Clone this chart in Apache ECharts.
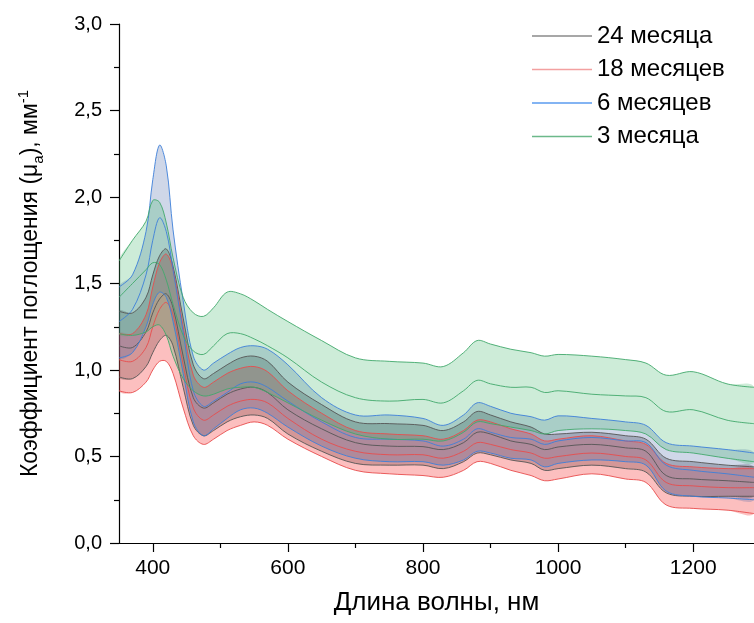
<!DOCTYPE html>
<html>
<head>
<meta charset="utf-8">
<script src="https://cdn.jsdelivr.net/npm/echarts@6/dist/echarts.min.js"></script>
<style>
  html, body { margin: 0; padding: 0; background: #ffffff; }
  #chart { width: 754px; height: 623px; }
</style>
</head>
<body>
<div id="chart"></div>
<script>
// Wavelength grid, nm
const wavelength = [350,370,390,400,410,420,430,445,460,475,490,510,530,550,570,600,650,700,750,800,830,860,880,900,930,960,980,1000,1050,1100,1130,1160,1200,1250,1290];

// 24 месяца: upper bound, mean, lower bound (мм^-1)
const m24Upper = [1.34,1.33,1.42,1.55,1.66,1.70,1.60,1.30,1.03,0.95,0.98,1.03,1.07,1.08,1.05,0.93,0.80,0.70,0.69,0.68,0.65,0.70,0.76,0.74,0.70,0.67,0.63,0.63,0.64,0.62,0.60,0.49,0.47,0.45,0.44];
const m24Mean  = [1.14,1.13,1.22,1.33,1.41,1.44,1.36,1.08,0.84,0.78,0.81,0.86,0.89,0.90,0.87,0.77,0.66,0.58,0.56,0.557,0.54,0.58,0.64,0.63,0.59,0.57,0.54,0.555,0.57,0.55,0.53,0.39,0.37,0.36,0.35];
const m24Lower = [0.96,0.95,1.02,1.10,1.17,1.20,1.14,0.90,0.68,0.62,0.65,0.70,0.73,0.74,0.72,0.63,0.53,0.46,0.45,0.45,0.43,0.47,0.52,0.51,0.48,0.46,0.42,0.43,0.45,0.43,0.41,0.29,0.27,0.27,0.27];

// 18 месяцев
const m18Upper = [1.21,1.21,1.32,1.48,1.62,1.67,1.58,1.25,0.97,0.90,0.93,0.98,1.01,1.02,0.99,0.88,0.75,0.65,0.63,0.62,0.60,0.65,0.71,0.70,0.66,0.63,0.59,0.60,0.62,0.59,0.57,0.46,0.44,0.43,0.43];
const m18Mean  = [1.06,1.05,1.13,1.25,1.35,1.39,1.32,1.03,0.78,0.71,0.74,0.79,0.82,0.83,0.81,0.72,0.60,0.53,0.51,0.51,0.49,0.53,0.58,0.57,0.54,0.52,0.49,0.50,0.52,0.50,0.48,0.35,0.33,0.32,0.32];
const m18Lower = [0.88,0.87,0.93,1.00,1.05,1.05,0.98,0.78,0.62,0.57,0.60,0.65,0.68,0.70,0.68,0.60,0.50,0.42,0.40,0.39,0.38,0.42,0.47,0.46,0.42,0.39,0.36,0.37,0.40,0.37,0.35,0.22,0.20,0.19,0.17];

// 6 месяцев
const m6Upper = [1.48,1.55,1.80,2.10,2.30,2.18,1.81,1.40,1.08,1.00,1.04,1.09,1.13,1.14,1.12,1.03,0.84,0.74,0.74,0.72,0.68,0.74,0.81,0.79,0.75,0.73,0.71,0.735,0.72,0.70,0.68,0.58,0.56,0.54,0.52];
const m6Mean  = [1.28,1.35,1.55,1.75,1.88,1.80,1.58,1.22,0.88,0.79,0.82,0.87,0.92,0.93,0.90,0.82,0.70,0.61,0.60,0.59,0.56,0.60,0.66,0.64,0.61,0.60,0.57,0.59,0.61,0.59,0.58,0.45,0.42,0.40,0.38];
const m6Lower = [1.07,1.10,1.25,1.38,1.45,1.42,1.28,0.98,0.70,0.62,0.66,0.72,0.77,0.78,0.75,0.67,0.56,0.49,0.47,0.47,0.45,0.48,0.53,0.52,0.49,0.48,0.44,0.46,0.48,0.47,0.45,0.30,0.27,0.26,0.25];

// 3 месяца
const m3Upper = [1.63,1.75,1.86,1.98,1.97,1.85,1.65,1.42,1.33,1.31,1.36,1.45,1.44,1.40,1.35,1.28,1.17,1.07,1.05,1.04,1.02,1.10,1.17,1.15,1.12,1.10,1.08,1.09,1.08,1.06,1.04,0.97,0.99,0.92,0.90];
const m3Mean  = [1.42,1.50,1.58,1.62,1.61,1.52,1.38,1.20,1.11,1.09,1.14,1.21,1.21,1.18,1.14,1.07,0.93,0.84,0.82,0.83,0.81,0.88,0.94,0.92,0.90,0.90,0.87,0.88,0.86,0.85,0.84,0.76,0.77,0.71,0.69];
const m3Lower = [1.21,1.20,1.22,1.25,1.26,1.20,1.08,0.95,0.88,0.85,0.86,0.89,0.90,0.90,0.87,0.81,0.71,0.63,0.60,0.60,0.59,0.64,0.70,0.69,0.67,0.65,0.63,0.65,0.66,0.65,0.63,0.54,0.52,0.49,0.47];

// Axis ticks
const xMajorTicks = [400, 600, 800, 1000, 1200];
const xMinorTicks = [500, 700, 900, 1100];

const FONT = '"Liberation Sans", Arial, sans-serif';
const SMOOTH = 0.35;

const groups = [
  { name: '24 месяца',  upper: m24Upper, mean: m24Mean, lower: m24Lower, line: '#555555', fill: 'rgba(55,55,60,0.30)',   legend: '#8a8a8a' },
  { name: '18 месяцев', upper: m18Upper, mean: m18Mean, lower: m18Lower, line: '#e84c4c', fill: 'rgba(245,60,60,0.33)',  legend: '#f3a0a0' },
  { name: '6 месяцев',  upper: m6Upper,  mean: m6Mean,  lower: m6Lower,  line: '#3d7fd9', fill: 'rgba(70,100,165,0.26)', legend: '#5a9bef' },
  { name: '3 месяца',   upper: m3Upper,  mean: m3Mean,  lower: m3Lower,  line: '#41a86c', fill: 'rgba(60,180,105,0.26)', legend: '#6cb98a' }
];

// anchor data so each custom series renders once
const anchor = [[wavelength[0], 0]];
const toPixels = (api, arr) => wavelength.map((w, i) => api.coord([w, arr[i]]));

const series = [];
// shaded bands between lower and upper bounds
groups.forEach(g => {
  series.push({
    type: 'custom', name: g.name + ' полоса', silent: true, clip: true, z: 1,
    data: anchor,
    renderItem: (params, api) => {
      const up = toPixels(api, g.upper);
      const lo = toPixels(api, g.lower).reverse();
      return {
        type: 'polygon',
        shape: { points: up.concat(lo), smooth: SMOOTH },
        style: { fill: g.fill, stroke: null }
      };
    }
  });
});
// bound and mean lines
groups.forEach(g => {
  series.push({
    type: 'custom', name: g.name, clip: true, z: 3,
    data: anchor,
    itemStyle: { color: g.legend },
    renderItem: (params, api) => ({
      type: 'group',
      children: ['upper', 'mean', 'lower'].map(key => ({
        type: 'polyline',
        shape: { points: toPixels(api, g[key]), smooth: SMOOTH },
        style: { stroke: g.line, lineWidth: 1, fill: null, opacity: 0.9 }
      }))
    })
  });
});

const chart = echarts.init(document.getElementById('chart'), null, { renderer: 'canvas' });
chart.setOption({
  animation: false,
  backgroundColor: '#ffffff',
  grid: { left: 119, right: 0, top: 24, bottom: 80, containLabel: false },
  legend: {
    orient: 'vertical', left: 532, top: 24, padding: 0,
    itemWidth: 60, itemHeight: 1.5, itemGap: 9.5,
    icon: 'rect', selectedMode: false,
    textStyle: { fontFamily: FONT, fontSize: 24, color: '#000', lineHeight: 24 },
    data: groups.map(g => ({ name: g.name, itemStyle: { color: g.legend } }))
  },
  xAxis: [{
    type: 'value', min: 350, max: 1290,
    name: 'Длина волны, нм', nameLocation: 'middle', nameGap: 47,
    nameTextStyle: { fontFamily: FONT, fontSize: 26, color: '#000' },
    axisLine: { show: true, lineStyle: { color: '#000', width: 1.2 } },
    axisTick: { show: true, length: 9, customValues: xMajorTicks, lineStyle: { color: '#000', width: 1.2 } },
    axisLabel: { customValues: xMajorTicks, margin: 15, fontFamily: FONT, fontSize: 21, color: '#000',
      formatter: v => String(v) },
    splitLine: { show: false }
  }, {
    type: 'value', min: 350, max: 1290, position: 'bottom',
    axisLine: { show: false },
    axisTick: { show: true, length: 5, customValues: xMinorTicks, lineStyle: { color: '#000', width: 1.2 } },
    axisLabel: { show: false }, splitLine: { show: false }
  }],
  yAxis: {
    type: 'value', min: 0, max: 3, interval: 0.5,
    name: '{t|Коэффициент поглощения (μ}{s|a}{t|), мм}{p|-1}',
    nameLocation: 'middle', nameGap: 73, nameRotate: 90,
    nameTextStyle: {
      fontFamily: FONT, color: '#000',
      rich: {
        t: { fontFamily: FONT, fontSize: 23, color: '#000', lineHeight: 30 },
        s: { fontFamily: FONT, fontSize: 15, color: '#000', verticalAlign: 'bottom', lineHeight: 15 },
        p: { fontFamily: FONT, fontSize: 15, color: '#000', verticalAlign: 'top', lineHeight: 15 }
      }
    },
    axisLine: { show: true, lineStyle: { color: '#000', width: 1.2 } },
    axisTick: { show: true, length: 9, lineStyle: { color: '#000', width: 1.2 } },
    minorTick: { show: true, splitNumber: 2, length: 5, lineStyle: { color: '#000', width: 1.2 } },
    axisLabel: { margin: 17, fontFamily: FONT, fontSize: 20, color: '#000',
      formatter: v => v.toFixed(1).replace('.', ',') },
    splitLine: { show: false }
  },
  series: series
});
</script>
</body>
</html>
